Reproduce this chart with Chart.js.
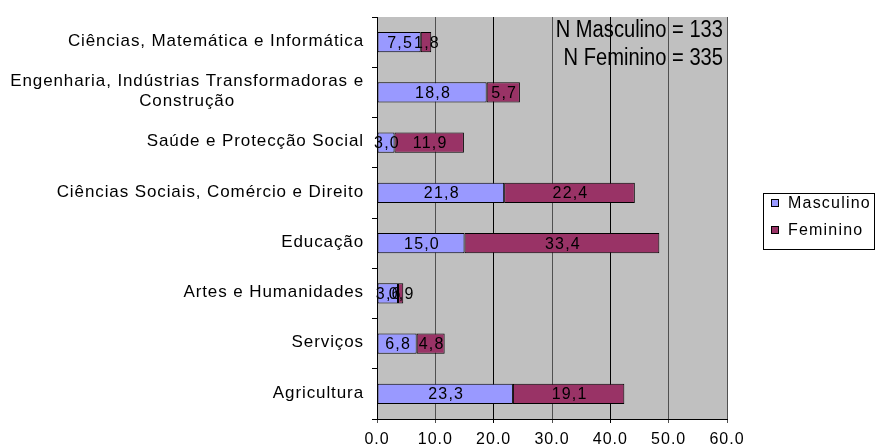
<!DOCTYPE html>
<html>
<head>
<meta charset="utf-8">
<script src="https://cdn.jsdelivr.net/npm/chart.js@4/dist/chart.umd.min.js"></script>
<style>
html,body{margin:0;padding:0;background:#fff;}
#wrap{width:875px;height:445px;position:relative;}
</style>
</head>
<body>
<div id="wrap"><canvas id="c" width="875" height="445"></canvas></div>
<script>
const categories = [
  ["Ciências, Matemática e Informática"],
  ["Engenharia, Indústrias Transformadoras e", "Construção"],
  ["Saúde e Protecção Social"],
  ["Ciências Sociais, Comércio e Direito"],
  ["Educação"],
  ["Artes e Humanidades"],
  ["Serviços"],
  ["Agricultura"]
];
const masculino = [7.5, 18.8, 3.0, 21.8, 15.0, 3.6, 6.8, 23.3];
const feminino  = [1.8, 5.7, 11.9, 22.4, 33.4, 0.9, 4.8, 19.1];
const seriesNames = ["Masculino", "Feminino"];
const xTicks = [0, 10, 20, 30, 40, 50, 60];
const noteLines = ["N Masculino = 133", "N Feminino = 335"];

const FONT = "'Liberation Sans', Arial, sans-serif";
const colors = ["#9999FF", "#993366"];

const plotBg = {
  id: 'plotBg',
  beforeDraw(chart) {
    const {ctx, chartArea: a} = chart;
    ctx.letterSpacing = '1px';
    ctx.save();
    ctx.fillStyle = '#C0C0C0';
    ctx.fillRect(a.left, a.top, a.right - a.left, a.bottom - a.top);
    ctx.restore();
  }
};

const extras = {
  id: 'extras',
  afterDatasetsDraw(chart) {
    const ctx = chart.ctx;
    ctx.save();
    ctx.font = '16px ' + FONT;
    ctx.letterSpacing = '1.2px';
    ctx.fillStyle = '#000';
    ctx.textAlign = 'center';
    ctx.textBaseline = 'middle';
    chart.data.datasets.forEach((ds, di) => {
      const meta = chart.getDatasetMeta(di);
      meta.data.forEach((bar, i) => {
        const v = ds.data[i];
        const txt = v.toFixed(1).replace('.', ',');
        ctx.fillText(txt, (bar.x + bar.base) / 2 + 1, bar.y + 1);
      });
    });
    ctx.restore();
  },
  afterDraw(chart) {
    const ctx = chart.ctx;
    const a = chart.chartArea;
    const yScale = chart.scales.y;
    ctx.save();
    // category labels
    ctx.font = '17px ' + FONT;
    ctx.letterSpacing = '0.9px';
    ctx.fillStyle = '#000';
    ctx.textBaseline = 'middle';
    categories.forEach((lines, i) => {
      const yc = yScale.getPixelForValue(i);
      const lh = 20;
      const widths = lines.map(l => ctx.measureText(l).width);
      const maxW = Math.max(...widths);
      const right = a.left - 13;
      lines.forEach((l, j) => {
        const y = yc - (lines.length - 1) * lh / 2 + j * lh - 1;
        if (lines.length === 1) {
          ctx.textAlign = 'right';
          ctx.fillText(l, right, y);
        } else {
          ctx.textAlign = 'center';
          ctx.fillText(l, right - maxW / 2, y);
        }
      });
    });
    // annotation (condensed)
    ctx.letterSpacing = '0px';
    ctx.font = "22px " + FONT;
    ctx.textAlign = 'right';
    ctx.textBaseline = 'middle';
    noteLines.forEach((t, i) => {
      ctx.save();
      ctx.translate(a.right - 4, a.top + 14 + i * 28);
      ctx.scale(0.915, 1.05);
      ctx.fillText(t, 0, 0);
      ctx.restore();
    });
    // legend
    const lx = a.right + 36, ly = (a.top + a.bottom) / 2 - 25;
    const lw = 111, lhh = 56;
    ctx.strokeStyle = '#000';
    ctx.lineWidth = 1;
    ctx.strokeRect(lx + 0.5, ly + 0.5, lw, lhh);
    ctx.font = '16px ' + FONT;
    ctx.letterSpacing = '1.2px';
    ctx.textAlign = 'left';
    seriesNames.forEach((n, i) => {
      const cy = ly + 10 + i * 27;
      ctx.fillStyle = colors[i];
      ctx.fillRect(lx + 8, cy - 4, 8, 8);
      ctx.strokeRect(lx + 8.5, cy - 3.5, 7, 7);
      ctx.fillStyle = '#000';
      ctx.fillText(n, lx + 25, cy + 1);
    });
    ctx.restore();
  }
};

new Chart(document.getElementById('c'), {
  type: 'bar',
  data: {
    labels: categories,
    datasets: [
      {label: seriesNames[0], data: masculino, backgroundColor: colors[0], borderColor: '#000', borderWidth: 1, borderSkipped: false},
      {label: seriesNames[1], data: feminino, backgroundColor: colors[1], borderColor: '#000', borderWidth: 1, borderSkipped: false}
    ]
  },
  plugins: [plotBg, extras],
  options: {
    indexAxis: 'y',
    responsive: false,
    animation: false,
    devicePixelRatio: 1,
    layout: {padding: {top: 17, right: 148, left: 0, bottom: 0}},
    datasets: {bar: {barPercentage: 0.8, categoryPercentage: 0.5}},
    plugins: {legend: {display: false}, tooltip: {enabled: false}},
    scales: {
      x: {
        stacked: true,
        min: 0, max: 60,
        afterBuildTicks(s) { s.ticks = xTicks.map(v => ({value: v})); },
        afterFit(s) { s.height = 26; },
        border: {color: '#000', width: 1},
        grid: {
          color: c => (c.tick && (c.tick.value === 20 || c.tick.value === 40)) ? '#000' : '#505050',
          tickLength: 4,
          drawTicks: true
        },
        ticks: {
          color: '#000',
          font: {family: FONT, size: 16},
          padding: 7,
          maxRotation: 0,
          callback: v => Number(v).toFixed(1)
        }
      },
      y: {
        stacked: true,
        afterFit(s) { s.width = 377; },
        border: {color: '#000', width: 1},
        grid: {drawOnChartArea: false, color: '#000', tickLength: 5, offset: true},
        ticks: {display: false}
      }
    }
  }
});
</script>
</body>
</html>
